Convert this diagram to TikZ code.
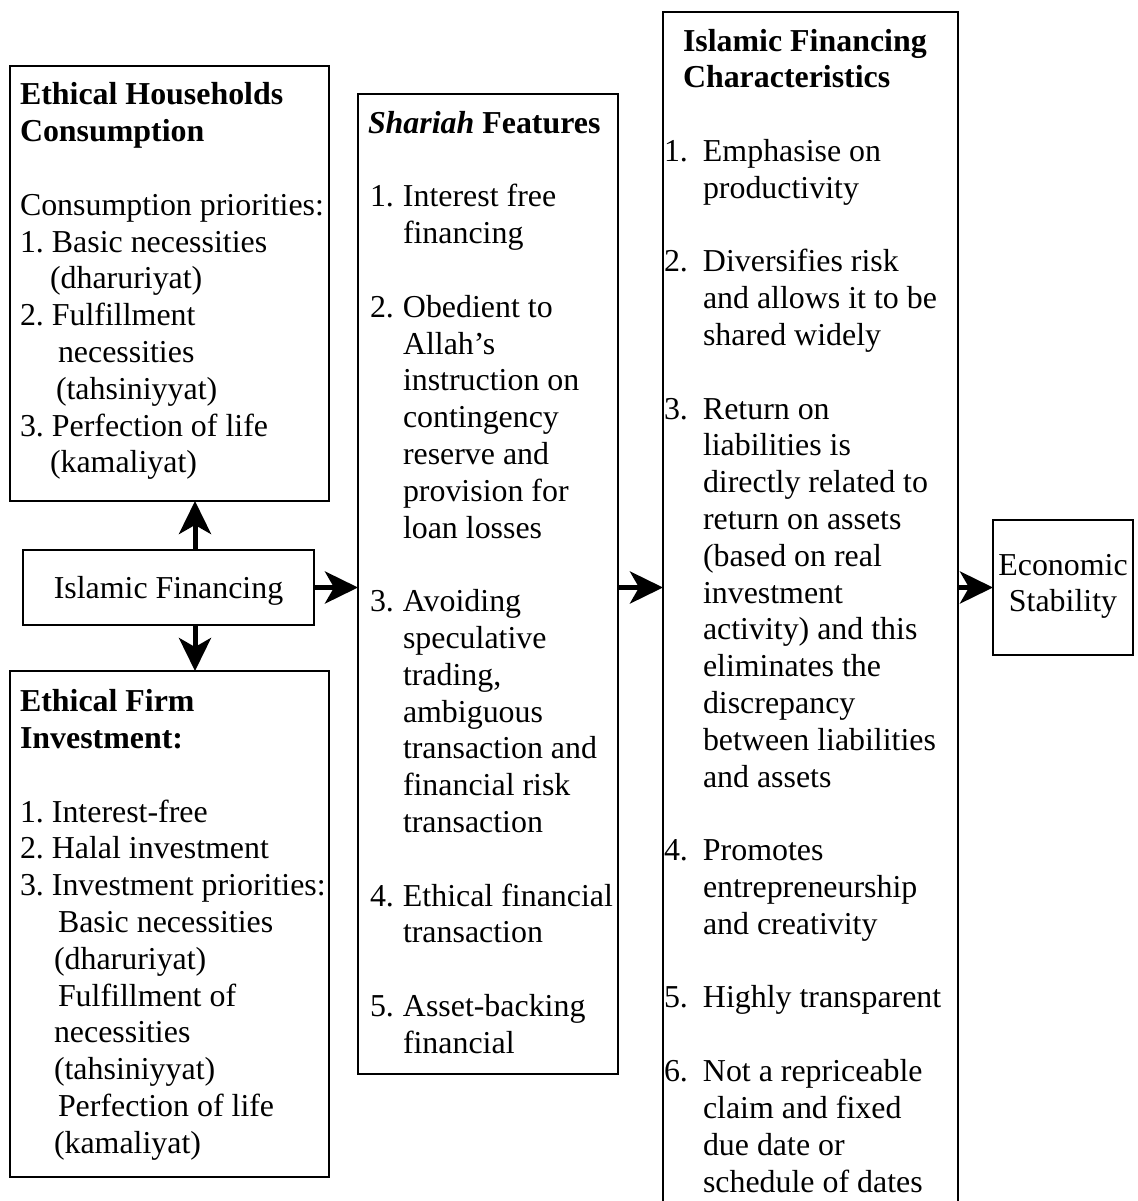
\documentclass[tikz,border=0pt]{standalone}
\usepackage{fontspec}
\setmainfont{Liberation Serif}
\usetikzlibrary{arrows.meta}
\frenchspacing
% list helpers: number in a box of fixed width, and a hanging indent
\newcommand\nitem[2][33pt]{\makebox[#1][l]{#2}}
\newcommand\cont[1][33pt]{\hspace*{#1}}

\begin{document}
\begin{tikzpicture}[x=1pt,y=-1pt,
  box/.style={draw, line width=1.8pt, rectangle, inner sep=0pt, outer sep=0pt, anchor=north west},
  txt/.style={inner sep=0pt, outer sep=0pt, anchor=base west, font=\fontsize{31.9}{36.8}\selectfont},
  arr/.style={line width=5pt, -{Stealth[length=33pt,width=32pt,inset=9pt]}}]

\useasboundingbox (0,0) rectangle (1137,1201);
\clip (0,0) rectangle (1137,1201);

% boxes
\node[box, minimum width=319pt, minimum height=435pt] (A) at (10,66) {};
\node[box, minimum width=291pt, minimum height=75pt] (IF) at (23,550) {};
\node[box, minimum width=319pt, minimum height=506pt] (C) at (10,671) {};
\node[box, minimum width=260pt, minimum height=980pt] (B) at (358,94) {};
\node[box, minimum width=295pt, minimum height=1230pt] (D) at (663,12) {};
\node[box, minimum width=140pt, minimum height=135pt] (E) at (993,520) {};

% household consumption
\node[txt] (At) at (20,105) {\begin{tabular}[t]{@{}l@{}}
\textbf{Ethical Households}\\
\textbf{Consumption}\\
\\
Consumption priorities:\\
1. Basic necessities\\
\cont[30pt](dharuriyat)\\
2. Fulfillment\\
\cont[38pt]necessities\\
\cont[36pt](tahsiniyyat)\\
3. Perfection of life\\
\cont[30pt](kamaliyat)
\end{tabular}};

% centre node
\node[txt, anchor=base] (IFt) at (168.5,598) {Islamic Financing};

% firm investment
\node[txt] (Ct) at (20,711.6) {\begin{tabular}[t]{@{}l@{}}
\textbf{Ethical Firm}\\
\textbf{Investment:}\\
\\
1. Interest-free\\
2. Halal investment\\
3. Investment priorities:\\
\cont[38pt]Basic necessities\\
\cont[34pt](dharuriyat)\\
\cont[38pt]Fulfillment of\\
\cont[34pt]necessities\\
\cont[34pt](tahsiniyyat)\\
\cont[38pt]Perfection of life\\
\cont[34pt](kamaliyat)
\end{tabular}};

% shariah features
\node[txt] (Bt) at (368,133.3) {\begin{tabular}[t]{@{}l@{}}
\textbf{\textit{Shariah} Features}\\
\\
\cont[2pt]\nitem{1.}Interest free\\
\cont[35pt]financing\\
\\
\cont[2pt]\nitem{2.}Obedient to\\
\cont[35pt]Allah’s\\
\cont[35pt]instruction on\\
\cont[35pt]contingency\\
\cont[35pt]reserve and\\
\cont[35pt]provision for\\
\cont[35pt]loan losses\\
\\
\cont[2pt]\nitem{3.}Avoiding\\
\cont[35pt]speculative\\
\cont[35pt]trading,\\
\cont[35pt]ambiguous\\
\cont[35pt]transaction and\\
\cont[35pt]financial risk\\
\cont[35pt]transaction\\
\\
\cont[2pt]\nitem{4.}Ethical financial\\
\cont[35pt]transaction\\
\\
\cont[2pt]\nitem{5.}Asset-backing\\
\cont[35pt]financial
\end{tabular}};

% financing characteristics
\node[txt] (Dt) at (664,51.2) {\begin{tabular}[t]{@{}l@{}}
\cont[19pt]\textbf{Islamic Financing}\\
\cont[19pt]\textbf{Characteristics}\\
\\
\nitem[39pt]{1.}Emphasise on\\
\cont[39pt]productivity\\
\\
\nitem[39pt]{2.}Diversifies risk\\
\cont[39pt]and allows it to be\\
\cont[39pt]shared widely\\
\\
\nitem[39pt]{3.}Return on\\
\cont[39pt]liabilities is\\
\cont[39pt]directly related to\\
\cont[39pt]return on assets\\
\cont[39pt](based on real\\
\cont[39pt]investment\\
\cont[39pt]activity) and this\\
\cont[39pt]eliminates the\\
\cont[39pt]discrepancy\\
\cont[39pt]between liabilities\\
\cont[39pt]and assets\\
\\
\nitem[39pt]{4.}Promotes\\
\cont[39pt]entrepreneurship\\
\cont[39pt]and creativity\\
\\
\nitem[39pt]{5.}Highly transparent\\
\\
\nitem[39pt]{6.}Not a repriceable\\
\cont[39pt]claim and fixed\\
\cont[39pt]due date or\\
\cont[39pt]schedule of dates
\end{tabular}};

% outcome
\node[txt, anchor=base] (Et) at (1063,575) {\begin{tabular}[t]{@{}c@{}}Economic\\Stability\end{tabular}};

% connectors
\draw[arr] ([xshift=26.5pt]IF.north) -- ([xshift=26.5pt]IF.north |- A.south);
\draw[arr] ([xshift=26.5pt]IF.south) -- ([xshift=26.5pt]IF.south |- C.north);
\draw[arr] (IF.east) -- (IF.east -| B.west);
\draw[arr] (IF.east -| B.east) -- (IF.east -| D.west);
\draw[arr] (E.west -| D.east) -- (E.west);
\end{tikzpicture}
\end{document}
